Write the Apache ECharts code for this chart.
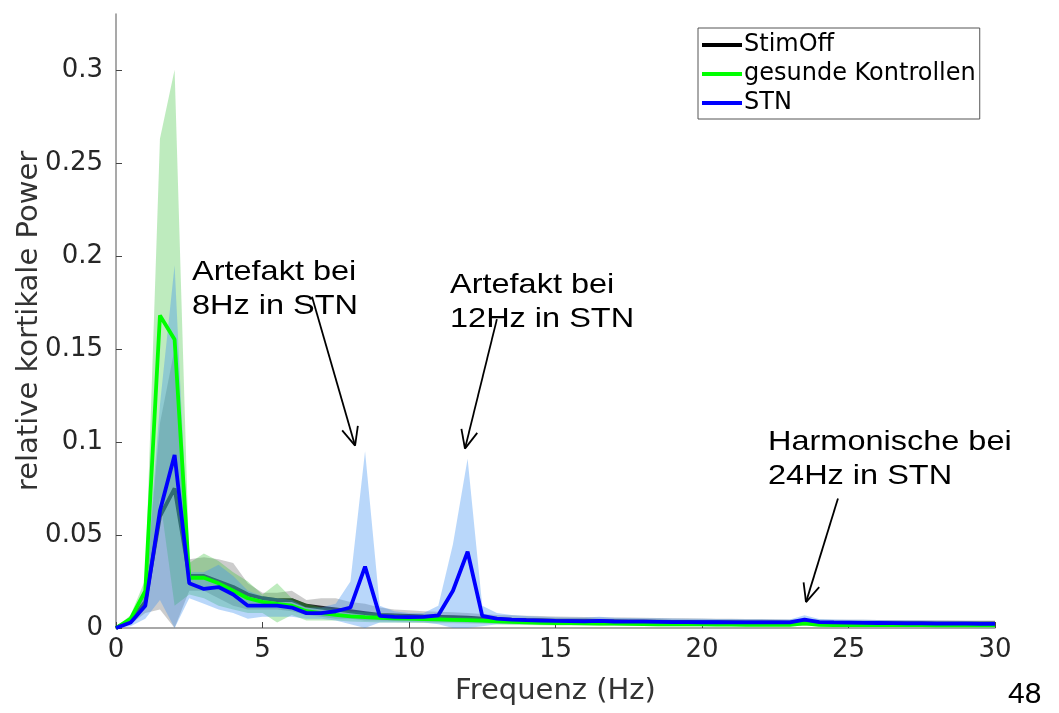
<!DOCTYPE html>
<html>
<head>
<meta charset="utf-8">
<script src="https://cdn.jsdelivr.net/npm/echarts@6/dist/echarts.min.js"></script>
<style>html,body{margin:0;padding:0;background:#fff}#c{width:1059px;height:713px}</style>
</head>
<body>
<div id="c"></div>
<script>
// Frequency bins (Hz), 0.5 Hz resolution
const freq = [];
for (let i = 0; i <= 60; i++) freq.push(i * 0.5);

const xTicks = [0, 5, 10, 15, 20, 25, 30];
const yTicks = [0, 0.05, 0.1, 0.15, 0.2, 0.25, 0.3];

// StimOff
const stimOff = [0,0.004,0.014,0.060,0.075,0.028,0.028,0.025,0.022,0.018,0.016,0.015,0.015,0.012,0.011,0.010,0.009,0.008,0.007,0.0068,0.0065,0.0062,0.006,0.0058,0.0055,0.005,0.0048,0.0045,0.0043,0.0042,0.004,0.004,0.0039,0.0038,0.0037,0.0036,0.0035,0.0034,0.0033,0.0033,0.0032,0.0032,0.0031,0.003,0.003,0.003,0.0029,0.0032,0.0029,0.0028,0.0028,0.0027,0.0027,0.0026,0.0026,0.0026,0.0025,0.0025,0.0025,0.0025,0.0025];
const stimOffUp = [0,0.006,0.020,0.110,0.150,0.037,0.038,0.037,0.035,0.024,0.019,0.019,0.020,0.015,0.016,0.016,0.014,0.013,0.011,0.010,0.0095,0.009,0.0088,0.0085,0.008,0.0075,0.007,0.0068,0.0066,0.0064,0.0062,0.006,0.0059,0.0058,0.0057,0.0056,0.0055,0.0054,0.0053,0.0052,0.0051,0.005,0.005,0.0049,0.0048,0.0047,0.0046,0.005,0.0046,0.0045,0.0044,0.0044,0.0043,0.0043,0.0042,0.0042,0.0041,0.0041,0.004,0.004,0.004];
const stimOffLo = [0,0.002,0.008,0.010,0.000,0.020,0.020,0.016,0.012,0.010,0.010,0.010,0.009,0.007,0.006,0.005,0.005,0.004,0.004,0.0038,0.0036,0.0035,0.0034,0.0032,0.003,0.0028,0.0026,0.0024,0.0022,0.0021,0.002,0.002,0.0019,0.0018,0.0018,0.0017,0.0017,0.0016,0.0016,0.0015,0.0015,0.0015,0.0014,0.0014,0.0014,0.0013,0.0013,0.0014,0.0013,0.0012,0.0012,0.0012,0.0011,0.0011,0.0011,0.0011,0.001,0.001,0.001,0.001,0.001];

// gesunde Kontrollen
const healthy = [0,0.005,0.020,0.168,0.155,0.027,0.027,0.024,0.020,0.016,0.014,0.013,0.012,0.009,0.008,0.007,0.0062,0.0058,0.0055,0.0052,0.005,0.0048,0.0046,0.0044,0.0042,0.004,0.0036,0.0033,0.003,0.0028,0.0027,0.0026,0.0025,0.0024,0.0023,0.0022,0.0021,0.002,0.002,0.0019,0.0019,0.0018,0.0018,0.0017,0.0017,0.0017,0.0017,0.0025,0.0017,0.0016,0.0016,0.0016,0.0015,0.0015,0.0015,0.0015,0.0014,0.0014,0.0014,0.0014,0.0014];
const healthyUp = [0,0.007,0.026,0.263,0.300,0.035,0.040,0.036,0.030,0.025,0.018,0.024,0.016,0.013,0.011,0.010,0.009,0.0085,0.008,0.0075,0.007,0.0068,0.0065,0.0062,0.006,0.0057,0.0053,0.005,0.0047,0.0045,0.0043,0.0041,0.004,0.0038,0.0037,0.0036,0.0035,0.0034,0.0033,0.0032,0.0031,0.003,0.003,0.0029,0.0029,0.0028,0.0028,0.004,0.0028,0.0027,0.0027,0.0026,0.0026,0.0025,0.0025,0.0025,0.0024,0.0024,0.0024,0.0023,0.0023];
const healthyLo = [0,0.003,0.012,0.070,0.012,0.018,0.016,0.012,0.010,0.008,0.008,0.003,0.007,0.004,0.004,0.004,0.0035,0.0032,0.003,0.0029,0.0028,0.0027,0.0026,0.0025,0.0024,0.0023,0.002,0.0018,0.0016,0.0015,0.0014,0.0013,0.0013,0.0012,0.0012,0.0011,0.0011,0.001,0.001,0.001,0.001,0.0009,0.0009,0.0009,0.0009,0.0009,0.0009,0.0012,0.0009,0.0008,0.0008,0.0008,0.0008,0.0008,0.0008,0.0007,0.0007,0.0007,0.0007,0.0007,0.0007];

// STN
const stn = [0,0.003,0.012,0.063,0.093,0.024,0.021,0.022,0.018,0.012,0.012,0.012,0.011,0.008,0.008,0.009,0.011,0.033,0.0065,0.006,0.0058,0.006,0.0068,0.020,0.041,0.0065,0.005,0.0045,0.0042,0.004,0.0038,0.0037,0.0036,0.0038,0.0035,0.0034,0.0034,0.0033,0.0032,0.0032,0.0031,0.0031,0.003,0.003,0.003,0.003,0.003,0.0045,0.0032,0.003,0.0029,0.0028,0.0027,0.0026,0.0025,0.0025,0.0024,0.0023,0.0023,0.0022,0.0022];
const stnUp = [0,0.005,0.020,0.120,0.195,0.030,0.030,0.034,0.028,0.020,0.017,0.016,0.015,0.011,0.011,0.013,0.025,0.095,0.012,0.009,0.008,0.008,0.012,0.045,0.091,0.012,0.008,0.007,0.0065,0.006,0.0058,0.0057,0.0056,0.006,0.0055,0.0054,0.0053,0.0052,0.0051,0.005,0.005,0.0049,0.0048,0.0047,0.0047,0.0046,0.0046,0.0068,0.0048,0.0046,0.0045,0.0044,0.0043,0.0042,0.0041,0.004,0.0039,0.0038,0.0037,0.0036,0.0035];
const stnLo = [0,0.001,0.005,0.015,0.000,0.016,0.013,0.010,0.008,0.005,0.006,0.006,0.006,0.005,0.005,0.004,0.002,0.000,0.003,0.003,0.003,0.003,0.002,0.000,0.000,0.001,0.002,0.002,0.002,0.002,0.002,0.0019,0.0018,0.0018,0.0017,0.0017,0.0016,0.0016,0.0015,0.0015,0.0015,0.0014,0.0014,0.0014,0.0014,0.0013,0.0013,0.0022,0.0014,0.0013,0.0013,0.0012,0.0012,0.0012,0.0011,0.0011,0.0011,0.0011,0.001,0.001,0.001];

// Annotations: text lines and arrow (from -> to) in data coordinates
const notes = [
  { lines: ['Artefakt bei', '8Hz in STN'], textLeft: 192, textTop: 255, from: [6.69, 0.178], to: [8.16, 0.098] },
  { lines: ['Artefakt bei', '12Hz in STN'], textLeft: 450, textTop: 268, from: [13.0, 0.166], to: [11.91, 0.0964] },
  { lines: ['Harmonische bei', '24Hz in STN'], textLeft: 768, textTop: 425, from: [24.64, 0.0696], to: [23.55, 0.0139] }
];

const pairs = arr => arr.map((v, i) => [freq[i], v]);

function band(name, up, lo, color, z) {
  return {
    type: 'custom', name: name, z: z, silent: true,
    data: [[0, 0]],
    clip: true,
    renderItem: function (params, api) {
      const pts = [];
      for (let i = 0; i < freq.length; i++) pts.push(api.coord([freq[i], up[i]]));
      for (let i = freq.length - 1; i >= 0; i--) pts.push(api.coord([freq[i], lo[i]]));
      return { type: 'polygon', shape: { points: pts }, style: { fill: color } };
    }
  };
}

const chart = echarts.init(document.getElementById('c'), null, { renderer: 'canvas' });
const tickFont = 'DejaVu Sans';
chart.setOption({
  animation: false,
  backgroundColor: '#fff',
  grid: { left: 116, right: 64, top: 14, bottom: 85, containLabel: false, outerBoundsMode: 'none' },
  legend: {
    data: ['StimOff', 'gesunde Kontrollen', 'STN'],
    orient: 'vertical', left: 698, top: 28,
    icon: 'rect', itemWidth: 40, itemHeight: 4, itemGap: 5,
    padding: [5, 4, 4, 4],
    borderColor: '#555', borderWidth: 1, backgroundColor: '#fff',
    textStyle: { fontFamily: tickFont, fontSize: 24, color: '#000', padding: [0, 0, 0, -3] }
  },
  xAxis: {
    type: 'value', min: 0, max: 30, interval: 5,
    name: 'Frequenz (Hz)', nameLocation: 'middle', nameGap: 49, nameMoveOverlap: false,
    nameTextStyle: { fontFamily: tickFont, fontSize: 29, color: '#333' },
    axisLine: { show: true, lineStyle: { color: '#8c8c8c', width: 1.5 } },
    axisTick: { show: true, inside: true, length: 6, lineStyle: { color: '#444' } },
    axisLabel: { fontFamily: tickFont, fontSize: 26, color: '#262626', margin: 9,
      formatter: v => xTicks.indexOf(v) >= 0 ? String(v) : '' },
    splitLine: { show: false }
  },
  yAxis: {
    type: 'value', min: 0, max: 0.33, interval: 0.05,
    name: 'relative kortikale Power', nameLocation: 'middle', nameGap: 72, nameMoveOverlap: false,
    nameTextStyle: { fontFamily: tickFont, fontSize: 29, color: '#333' },
    axisLine: { show: true, lineStyle: { color: '#8c8c8c', width: 1.5 } },
    axisTick: { show: true, inside: true, length: 6, lineStyle: { color: '#444' } },
    axisLabel: { fontFamily: tickFont, fontSize: 26, color: '#262626', margin: 13, showMaxLabel: false,
      formatter: v => { const t = yTicks.find(k => Math.abs(k - v) < 1e-9); return t === undefined ? '' : String(t); } },
    splitLine: { show: false }
  },
  series: [
    { type: 'line', name: 'StimOff', data: pairs(stimOff), z: 1, symbol: 'none', color: '#000',
      lineStyle: { color: '#000', width: 3.8 } },
    band('bandStimOff', stimOffUp, stimOffLo, 'rgba(120,120,120,0.38)', 2),
    band('bandHealthy', healthyUp, healthyLo, 'rgba(40,190,40,0.30)', 2),
    band('bandSTN', stnUp, stnLo, 'rgba(60,145,240,0.36)', 2),
    { type: 'line', name: 'gesunde Kontrollen', data: pairs(healthy), z: 3, symbol: 'none', color: '#00ff00',
      lineStyle: { color: '#00ff00', width: 3.8 } },
    { type: 'line', name: 'STN', data: pairs(stn), z: 4, symbol: 'none', color: '#0000ff',
      lineStyle: { color: '#0000ff', width: 3.8 } }
  ]
});

// Annotation graphics (arrows placed through the chart's scales)
const g = [];
notes.forEach(n => {
  g.push({ type: 'text', x: n.textLeft, y: n.textTop, z: 10, scaleX: 1.16,
    style: { text: n.lines.join('\n'), font: '28px "Liberation Sans", Arial, sans-serif', fill: '#000', lineHeight: 34 } });
  const p0 = chart.convertToPixel({ gridIndex: 0 }, n.from);
  const p1 = chart.convertToPixel({ gridIndex: 0 }, n.to);
  g.push({ type: 'line', z: 10, shape: { x1: p0[0], y1: p0[1], x2: p1[0], y2: p1[1] },
    style: { stroke: '#000', lineWidth: 1.8 } });
  const ang = Math.atan2(p0[1] - p1[1], p0[0] - p1[0]);
  const L = 20, spread = 0.42;
  [ang - spread, ang + spread].forEach(a => {
    g.push({ type: 'line', z: 10, shape: { x1: p1[0], y1: p1[1], x2: p1[0] + L * Math.cos(a), y2: p1[1] + L * Math.sin(a) },
      style: { stroke: '#000', lineWidth: 1.8 } });
  });
});
g.push({ type: 'text', x: 1008, y: 680, z: 10,
  style: { text: '48', font: '30px "Liberation Sans", Arial, sans-serif', fill: '#000' } });
chart.setOption({ graphic: g });
</script>
</body>
</html>
